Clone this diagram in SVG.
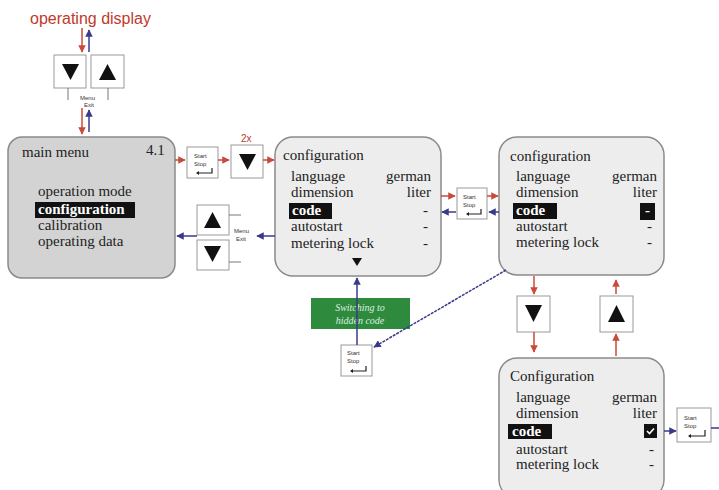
<svg xmlns="http://www.w3.org/2000/svg" width="719" height="490" viewBox="0 0 719 490">
<defs>
<style>
.box{fill:#ededed;stroke:#8a8a8a;stroke-width:1.5}
.main{fill:#d3d3d3;stroke:#8a8a8a;stroke-width:1.5}
.t{font-family:"Liberation Serif",serif;font-size:15px;fill:#222}
.hl{fill:#111}
.hlt{font-family:"Liberation Serif",serif;font-size:15px;fill:#fff;font-weight:bold}
.key{fill:#fff;stroke:#999;stroke-width:1}
.tri{fill:#111}
.small{font-family:"Liberation Sans",sans-serif;font-size:6px;fill:#333}
.red{stroke:#c84a3a;stroke-width:1.5;fill:none}
.blue{stroke:#3a3a8a;stroke-width:1.5;fill:none}
.tab{stroke:#777;stroke-width:1;fill:none}
</style>
<marker id="ar" viewBox="0 0 10 10" refX="9" refY="5" markerWidth="5" markerHeight="5" orient="auto"><path d="M0,0L10,5L0,10z" fill="#c84a3a"/></marker>
<marker id="ab" viewBox="0 0 10 10" refX="9" refY="5" markerWidth="5" markerHeight="5" orient="auto"><path d="M0,0L10,5L0,10z" fill="#3a3a8a"/></marker>
</defs>
<rect width="719" height="490" fill="#fff"/>
<text x="30" y="24" font-family="Liberation Sans,sans-serif" font-size="16" fill="#c0392b">operating display</text>

<g id="keys-top">
<rect class="key" x="54" y="55" width="32" height="33"/>
<path class="tri" d="M62,64H79L70.5,80z"/>
<rect class="key" x="91" y="55" width="33" height="33"/>
<path class="tri" d="M99,80H116L107.5,64z"/>
<path class="tab" d="M68,88V100M108,88V100"/>
<text class="small" x="80" y="100">Menu</text>
<text class="small" x="84" y="107">Exit</text>
</g>

<g id="main-menu">
<rect class="main" x="8" y="137" width="167" height="141" rx="14"/>
<text class="t" x="22" y="157">main menu</text>
<text class="t" x="146" y="155" font-size="12">4.1</text>
<text class="t" x="38" y="196">operation mode</text>
<rect class="hl" x="35" y="202" width="100" height="16"/>
<text class="hlt" x="38" y="214">configuration</text>
<text class="t" x="38" y="230">calibration</text>
<text class="t" x="38" y="246">operating data</text>
</g>

<g id="key-startstop-1">
<rect class="key" x="187" y="147" width="31" height="31"/>
<text class="small" x="194" y="158">Start</text>
<text class="small" x="194" y="166">Stop</text>
<path d="M212,168V173H197" stroke="#222" stroke-width="1.2" fill="none"/>
<path d="M196,173l3,-2v4z" fill="#222"/>
</g>

<g id="key-down-2x">
<rect class="key" x="231" y="145" width="32" height="33"/>
<path class="tri" d="M239,154H256L247.5,170z"/>
<text x="241" y="142" font-family="Liberation Sans,sans-serif" font-size="10" fill="#c0392b">2x</text>
</g>

<g id="key-menu-exit">
<rect class="key" x="197" y="205" width="32" height="30"/>
<path class="tri" d="M204,228H221L212.5,212z"/>
<rect class="key" x="197" y="240" width="32" height="30"/>
<path class="tri" d="M204,246H221L212.5,262z"/>
<path class="tab" d="M229,215H241M229,262H241"/>
<text class="small" x="234" y="233">Menu</text>
<text class="small" x="236" y="241">Exit</text>
</g>

<g id="config-1">
<rect class="box" x="275" y="137" width="166" height="139" rx="18"/>
<text class="t" x="283" y="160">configuration</text>
<text class="t" x="291" y="181">language</text>
<text class="t" x="431" y="181" text-anchor="end">german</text>
<text class="t" x="291" y="197">dimension</text>
<text class="t" x="431" y="197" text-anchor="end">liter</text>
<rect class="hl" x="289" y="203" width="43" height="16"/>
<text class="hlt" x="292" y="215">code</text>
<text class="t" x="428" y="215" text-anchor="end">-</text>
<text class="t" x="291" y="231">autostart</text>
<text class="t" x="428" y="231" text-anchor="end">-</text>
<text class="t" x="291" y="248">metering lock</text>
<text class="t" x="428" y="248" text-anchor="end">-</text>
<path class="tri" d="M352,258H362L357,266z"/>
</g>

<g id="key-startstop-2">
<rect class="key" x="457" y="188" width="30" height="31"/>
<text class="small" x="463" y="199">Start</text>
<text class="small" x="463" y="207">Stop</text>
<path d="M481,209V214H467" stroke="#222" stroke-width="1.2" fill="none"/>
<path d="M466,214l3,-2v4z" fill="#222"/>
</g>

<g id="config-2">
<rect class="box" x="499" y="137" width="165" height="138" rx="18"/>
<text class="t" x="510" y="161">configuration</text>
<text class="t" x="516" y="181">language</text>
<text class="t" x="657" y="181" text-anchor="end">german</text>
<text class="t" x="516" y="197">dimension</text>
<text class="t" x="657" y="197" text-anchor="end">liter</text>
<rect class="hl" x="513" y="203" width="44" height="16"/>
<text class="hlt" x="516" y="215">code</text>
<rect class="hl" x="640" y="203" width="15" height="17"/>
<text class="hlt" x="647.5" y="215" text-anchor="middle">-</text>
<text class="t" x="516" y="231">autostart</text>
<text class="t" x="652" y="231" text-anchor="end">-</text>
<text class="t" x="516" y="247">metering lock</text>
<text class="t" x="652" y="247" text-anchor="end">-</text>
</g>

<g id="hidden-code">
<rect x="311" y="298" width="99" height="31" fill="#2e8b3e"/>
<text x="360" y="311" text-anchor="middle" font-family="Liberation Serif,serif" font-style="italic" font-size="10" fill="#dfeee0">Switching to</text>
<text x="360" y="324" text-anchor="middle" font-family="Liberation Serif,serif" font-style="italic" font-size="10" fill="#dfeee0">hidden code</text>
</g>

<g id="key-startstop-3">
<rect class="key" x="341" y="345" width="31" height="31"/>
<text class="small" x="347" y="355">Start</text>
<text class="small" x="347" y="363">Stop</text>
<path d="M366,366V371H351" stroke="#222" stroke-width="1.2" fill="none"/>
<path d="M350,371l3,-2v4z" fill="#222"/>
</g>

<g id="key-down-3">
<rect class="key" x="517" y="296" width="33" height="36"/>
<path class="tri" d="M525,305H542L533.5,322z"/>
</g>
<g id="key-up-3">
<rect class="key" x="600" y="296" width="33" height="36"/>
<path class="tri" d="M608,322H625L616.5,305z"/>
</g>

<g id="config-3">
<rect class="box" x="499" y="358" width="165" height="140" rx="18"/>
<text class="t" x="510" y="381">Configuration</text>
<text class="t" x="516" y="402">language</text>
<text class="t" x="657" y="402" text-anchor="end">german</text>
<text class="t" x="516" y="418">dimension</text>
<text class="t" x="657" y="418" text-anchor="end">liter</text>
<rect class="hl" x="508" y="424" width="44" height="15"/>
<text class="hlt" x="512" y="436">code</text>
<rect class="hl" x="644" y="424" width="13" height="14"/>
<path d="M647,431l2.5,2.5l4.5,-5" stroke="#fff" stroke-width="1.6" fill="none"/>
<text class="t" x="516" y="454">autostart</text>
<text class="t" x="654" y="454" text-anchor="end">-</text>
<text class="t" x="516" y="469">metering lock</text>
<text class="t" x="654" y="469" text-anchor="end">-</text>
</g>

<g id="key-startstop-4">
<rect class="key" x="677" y="408" width="34" height="34"/>
<text class="small" x="684" y="420">Start</text>
<text class="small" x="684" y="428">Stop</text>
<path d="M705,430V436H689" stroke="#222" stroke-width="1.2" fill="none"/>
<path d="M688,436l3,-2v4z" fill="#222"/>
</g>

<g id="connectors">
<path class="red" d="M82,28V52" marker-end="url(#ar)"/>
<path class="blue" d="M89,52V30" marker-end="url(#ab)"/>
<path class="red" d="M82,108V134" marker-end="url(#ar)"/>
<path class="blue" d="M89,132V110" marker-end="url(#ab)"/>
<path class="red" d="M175,160H185" marker-end="url(#ar)"/>
<path class="red" d="M218,160H229" marker-end="url(#ar)"/>
<path class="red" d="M263,160H274" marker-end="url(#ar)"/>
<path class="blue" d="M275,236H257" marker-end="url(#ab)"/>
<path class="blue" d="M197,236H177" marker-end="url(#ab)"/>
<path class="red" d="M441,196H455" marker-end="url(#ar)"/>
<path class="red" d="M487,196H498" marker-end="url(#ar)"/>
<path class="blue" d="M499,212H489" marker-end="url(#ab)"/>
<path class="blue" d="M456,212H442" marker-end="url(#ab)"/>
<path class="blue" d="M357,345V278" marker-end="url(#ab)"/>
<path class="blue" d="M506,270L374,347" stroke-dasharray="3,1" marker-end="url(#ab)"/>
<path class="red" d="M534,276V294" marker-end="url(#ar)"/>
<path class="red" d="M534,332V352" marker-end="url(#ar)"/>
<path class="red" d="M616,294V280" marker-end="url(#ar)"/>
<path class="red" d="M616,356V334" marker-end="url(#ar)"/>
<path class="blue" d="M664,431H676" marker-end="url(#ab)"/>
<path class="blue" d="M711,428H719"/>
</g>
</svg>
